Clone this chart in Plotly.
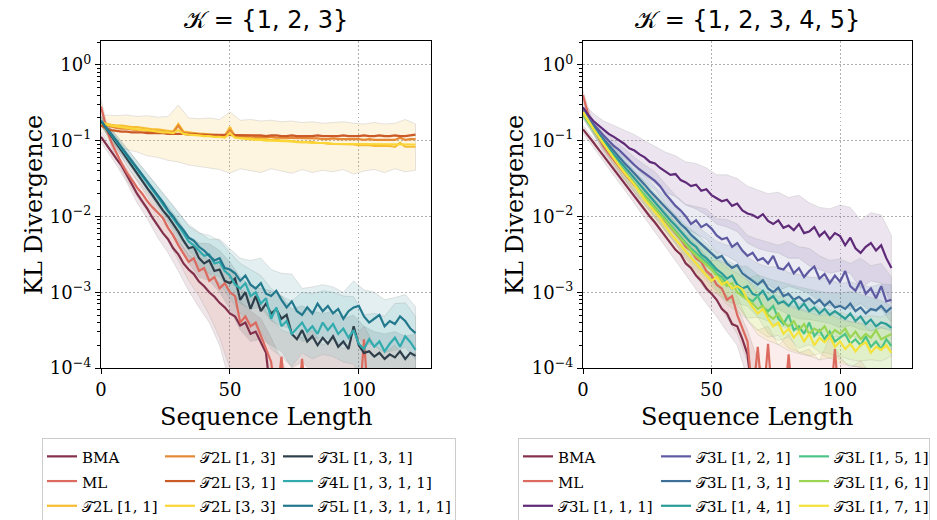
import plotly.graph_objects as go

# ---------------- data (log10 of KL divergence) ----------------
x_k3 = list(range(0, 123, 2))
x_k3_band = [0] + list(range(2, 123, 4))
x_k5 = list(range(0, 121, 2))
x_k5_band = list(range(0, 121, 4))

# K = {1,2,3}
bma_k3 = [-0.95, -1.05, -1.15, -1.24, -1.33, -1.45, -1.56, -1.70, -1.80, -1.90,
          -2.02, -2.12, -2.22, -2.30, -2.42, -2.50, -2.62, -2.70, -2.76, -2.86,
          -2.92, -3.00, -3.06, -3.14, -3.20, -3.28, -3.32, -3.44, -3.40, -3.55,
          -3.52, -3.66, -3.80, -4.40, -4.60, -4.60, -4.60, -4.60, -4.60, -4.60,
          -4.60, -4.60, -4.60, -4.60, -4.60, -4.60, -4.60, -4.60, -4.60, -4.60,
          -4.60, -4.60, -4.60, -4.60, -4.60, -4.60, -4.60, -4.60, -4.60, -4.60,
          -4.60, -4.60]
ml_k3 = [-0.55, -0.82, -1.02, -1.17, -1.30, -1.42, -1.52, -1.62, -1.70, -1.80,
         -1.88, -1.95, -2.02, -2.15, -2.25, -2.38, -2.50, -2.60, -2.55, -2.72,
         -2.68, -2.85, -2.80, -2.95, -2.88, -3.00, -3.05, -3.40, -3.32, -3.45,
         -3.40, -3.58, -3.75, -3.92, -4.50, -3.85, -4.60, -4.60, -4.60, -3.88,
         -4.60, -4.60, -4.60, -4.60, -4.60, -4.60, -4.60, -4.60, -4.60, -4.60,
         -4.60, -3.62, -4.60, -4.60, -4.60, -4.60, -4.60, -4.60, -4.60, -4.60,
         -4.60, -4.60]
t2l_11_k3 = [-0.76, -0.78, -0.79, -0.80, -0.80, -0.81, -0.82, -0.82, -0.83, -0.84,
             -0.85, -0.85, -0.86, -0.87, -0.88, -0.78, -0.88, -0.89, -0.90, -0.91,
             -0.91, -0.92, -0.93, -0.93, -0.94, -0.82, -0.95, -0.95, -0.96, -0.97,
             -0.97, -0.98, -0.98, -0.99, -0.99, -1.00, -1.00, -1.01, -1.01, -1.02,
             -1.02, -1.02, -1.03, -1.03, -1.04, -1.04, -1.04, -1.05, -1.05, -1.05,
             -1.06, -1.06, -1.06, -1.07, -1.07, -1.07, -1.07, -1.08, -1.03, -1.08,
             -1.08, -1.08]
t2l_13_k3 = [-0.78, -0.80, -0.82, -0.83, -0.84, -0.84, -0.85, -0.86, -0.86, -0.87,
             -0.87, -0.88, -0.88, -0.89, -0.89, -0.80, -0.90, -0.90, -0.91, -0.91,
             -0.92, -0.92, -0.92, -0.93, -0.93, -0.86, -0.93, -0.94, -0.94, -0.94,
             -0.95, -0.95, -0.95, -0.95, -0.96, -0.96, -0.96, -0.96, -0.97, -0.97,
             -0.97, -0.97, -0.97, -0.98, -0.98, -0.97, -0.98, -0.98, -0.98, -0.98,
             -0.98, -0.99, -0.98, -0.99, -0.99, -0.99, -0.99, -0.99, -0.96, -0.99,
             -0.98, -0.98]
t2l_31_k3 = [-0.80, -0.84, -0.86, -0.87, -0.88, -0.88, -0.89, -0.89, -0.89, -0.90,
             -0.90, -0.90, -0.90, -0.91, -0.91, -0.91, -0.91, -0.92, -0.91, -0.92,
             -0.92, -0.92, -0.92, -0.92, -0.93, -0.92, -0.93, -0.93, -0.93, -0.93,
             -0.93, -0.93, -0.94, -0.93, -0.93, -0.94, -0.94, -0.93, -0.94, -0.94,
             -0.94, -0.94, -0.93, -0.94, -0.94, -0.94, -0.94, -0.93, -0.94, -0.94,
             -0.94, -0.93, -0.94, -0.94, -0.93, -0.94, -0.94, -0.93, -0.94, -0.94,
             -0.93, -0.92]
t2l_33_k3 = [-0.77, -0.79, -0.80, -0.81, -0.82, -0.83, -0.84, -0.85, -0.86, -0.86,
             -0.87, -0.88, -0.89, -0.89, -0.90, -0.86, -0.91, -0.92, -0.92, -0.93,
             -0.94, -0.94, -0.95, -0.95, -0.96, -0.90, -0.96, -0.97, -0.98, -0.98,
             -0.99, -0.99, -1.00, -1.00, -1.00, -1.01, -1.01, -1.01, -1.02, -1.02,
             -1.02, -1.03, -1.03, -1.03, -1.03, -1.04, -1.04, -1.04, -1.04, -1.04,
             -1.04, -1.05, -1.05, -1.05, -1.05, -1.05, -1.05, -1.05, -1.04, -1.05,
             -1.05, -1.05]
t3l_k3 = [-0.74, -0.84, -0.93, -1.03, -1.13, -1.23, -1.33, -1.43, -1.53, -1.63,
          -1.72, -1.82, -1.92, -2.00, -2.10, -2.20, -2.32, -2.42, -2.40, -2.55,
          -2.62, -2.58, -2.72, -2.70, -2.85, -2.88, -2.82, -3.10, -3.00, -3.22,
          -3.05, -3.25, -3.15, -3.28, -3.22, -3.35, -3.30, -3.55, -3.62, -3.50,
          -3.65, -3.58, -3.70, -3.60, -3.68, -3.58, -3.72, -3.65, -3.75, -3.45,
          -3.70, -3.80, -3.78, -3.85, -3.80, -3.88, -3.82, -3.86, -3.78, -3.88,
          -3.80, -3.84]
t4l_k3 = [-0.74, -0.83, -0.92, -1.01, -1.10, -1.19, -1.28, -1.37, -1.46, -1.55,
          -1.64, -1.74, -1.84, -1.93, -2.02, -2.12, -2.22, -2.33, -2.38, -2.45,
          -2.52, -2.50, -2.62, -2.60, -2.72, -2.78, -2.90, -2.95, -2.88, -3.05,
          -3.00, -3.15, -3.08, -3.35, -3.20, -3.45, -3.38, -3.55, -3.48, -3.40,
          -3.52, -3.45, -3.55, -3.40, -3.50, -3.42, -3.55, -3.48, -3.60, -3.50,
          -3.68, -3.75, -3.62, -3.72, -3.65, -3.78, -3.68, -3.60, -3.72, -3.58,
          -3.66, -3.76]
t5l_k3 = [-0.74, -0.82, -0.91, -1.00, -1.09, -1.18, -1.27, -1.36, -1.45, -1.54,
          -1.63, -1.72, -1.81, -1.92, -2.00, -2.10, -2.18, -2.28, -2.32, -2.40,
          -2.45, -2.52, -2.58, -2.55, -2.68, -2.70, -2.75, -2.85, -2.78, -2.90,
          -2.95, -2.88, -3.02, -3.05, -2.98, -3.10, -3.20, -3.12, -3.25, -3.30,
          -3.20, -3.28, -3.15, -3.25, -3.18, -3.28, -3.22, -3.35, -3.25, -3.20,
          -3.18, -3.32, -3.40, -3.35, -3.30, -3.45, -3.38, -3.42, -3.32, -3.38,
          -3.48, -3.54]

# bands K = {1,2,3} (on x_k3_band)
t2l_11_k3_lo = [-0.84, -0.95, -1.08, -1.12, -1.15, -1.20, -1.22, -1.26, -1.28, -1.32,
                -1.34, -1.36, -1.38, -1.43, -1.37, -1.40, -1.42, -1.37, -1.40, -1.43,
                -1.38, -1.42, -1.39, -1.41, -1.38, -1.44, -1.40, -1.38, -1.42, -1.37,
                -1.41, -1.39]
t2l_11_k3_hi = [-0.68, -0.66, -0.67, -0.66, -0.68, -0.67, -0.69, -0.68, -0.53, -0.70,
                -0.71, -0.70, -0.72, -0.62, -0.73, -0.72, -0.74, -0.73, -0.75, -0.74,
                -0.76, -0.75, -0.77, -0.76, -0.75, -0.77, -0.78, -0.76, -0.78, -0.77,
                -0.72, -0.78]
bma_k3_lo = [-1.02, -1.12, -1.32, -1.55, -1.82, -2.03, -2.28, -2.48, -2.72, -2.98,
             -3.20, -3.40, -3.70, -4.20, -4.50, -4.60, -4.60, -4.60, -4.60, -4.60,
             -4.60, -4.60, -4.60, -4.60, -4.60, -4.60, -4.60, -4.60, -4.60, -4.60,
             -4.60, -4.60]
bma_k3_hi = [-0.88, -0.98, -1.17, -1.37, -1.60, -1.79, -2.00, -2.16, -2.32, -2.50,
             -2.62, -2.76, -2.88, -2.98, -3.12, -3.25, -3.35, -3.60, -3.90, -4.20,
             -4.60, -4.60, -4.60, -4.60, -4.60, -4.60, -4.60, -4.60, -4.60, -4.60,
             -4.60, -4.60]
ml_k3_lo = [-0.62, -0.90, -1.25, -1.52, -1.74, -1.93, -2.10, -2.32, -2.58, -2.85,
            -3.05, -3.30, -3.60, -4.00, -4.50, -4.60, -4.60, -4.60, -4.60, -4.60,
            -4.60, -4.60, -4.60, -4.60, -4.60, -4.60, -4.60, -4.60, -4.60, -4.60,
            -4.60, -4.60]
ml_k3_hi = [-0.45, -0.74, -1.09, -1.33, -1.51, -1.68, -1.82, -2.00, -2.20, -2.40,
            -2.48, -2.58, -2.65, -2.68, -2.95, -3.05, -3.15, -3.35, -3.50, -3.55,
            -3.60, -3.50, -3.70, -3.60, -3.75, -3.60, -3.45, -3.70, -3.80, -3.70,
            -3.90, -3.80]
t3l_k3_lo = [-0.80, -0.91, -1.11, -1.32, -1.53, -1.74, -1.95, -2.15, -2.38, -2.62,
             -2.80, -2.85, -3.00, -3.22, -3.50, -3.65, -3.62, -3.70, -3.78, -4.00,
             -3.92, -4.05, -4.10, -4.00, -4.20, -4.10, -4.30, -4.30, -4.40, -4.30,
             -4.40, -4.30]
t3l_k3_hi = [-0.68, -0.77, -0.96, -1.15, -1.34, -1.53, -1.71, -1.87, -2.05, -2.26,
             -2.35, -2.36, -2.45, -2.60, -2.80, -2.92, -2.95, -2.98, -3.05, -3.22,
             -3.18, -3.25, -3.28, -3.25, -3.35, -3.30, -3.45, -3.52, -3.55, -3.52,
             -3.58, -3.55]
t4l_k3_lo = [-0.80, -0.90, -1.09, -1.28, -1.47, -1.66, -1.87, -2.08, -2.30, -2.53,
             -2.68, -2.75, -2.88, -3.08, -3.28, -3.40, -3.52, -3.75, -3.85, -3.98,
             -3.80, -3.88, -3.82, -3.85, -3.92, -3.95, -4.20, -4.15, -4.25, -4.05,
             -4.00, -4.20]
t4l_k3_hi = [-0.68, -0.76, -0.93, -1.10, -1.27, -1.44, -1.61, -1.78, -1.94, -2.13,
             -2.22, -2.25, -2.32, -2.48, -2.62, -2.70, -2.78, -2.95, -3.05, -3.12,
             -3.00, -3.02, -2.98, -3.00, -3.05, -3.06, -3.30, -3.28, -3.32, -3.15,
             -3.14, -3.32]
t5l_k3_lo = [-0.80, -0.88, -1.07, -1.26, -1.45, -1.64, -1.83, -2.05, -2.25, -2.45,
             -2.60, -2.75, -2.80, -2.98, -3.15, -3.22, -3.20, -3.38, -3.45, -3.48,
             -3.65, -3.62, -3.60, -3.63, -3.70, -3.55, -3.67, -3.70, -3.80, -3.77,
             -3.73, -3.89]
t5l_k3_hi = [-0.68, -0.76, -0.93, -1.10, -1.27, -1.44, -1.61, -1.79, -1.95, -2.11,
             -2.20, -2.30, -2.30, -2.42, -2.55, -2.58, -2.55, -2.70, -2.75, -2.76,
             -2.95, -2.93, -2.90, -2.93, -3.00, -2.85, -2.97, -3.00, -3.10, -3.07,
             -3.03, -3.19]

# K = {1,2,3,4,5}
bma_k5 = [-0.85, -0.93, -1.02, -1.11, -1.20, -1.29, -1.38, -1.47, -1.55, -1.64,
          -1.73, -1.82, -1.91, -2.00, -2.08, -2.17, -2.26, -2.35, -2.44, -2.50,
          -2.62, -2.68, -2.78, -2.85, -2.95, -3.02, -3.10, -3.22, -3.28, -3.42,
          -3.45, -3.62, -3.82, -4.40, -4.60, -4.60, -4.60, -4.60, -4.60, -4.60,
          -4.60, -4.60, -4.60, -4.60, -4.60, -4.60, -4.60, -4.60, -4.60, -4.60,
          -4.60, -4.60, -4.60, -4.60, -4.60, -4.60, -4.60, -4.60, -4.60, -4.60,
          -4.60]
ml_k5 = [-0.40, -0.65, -0.84, -0.97, -1.08, -1.17, -1.26, -1.35, -1.43, -1.51,
         -1.58, -1.66, -1.74, -1.82, -1.90, -1.98, -2.06, -2.14, -2.22, -2.30,
         -2.40, -2.45, -2.55, -2.60, -2.72, -2.78, -2.90, -2.95, -3.10, -3.05,
         -3.30, -3.48, -3.65, -4.40, -3.72, -4.50, -3.68, -4.60, -4.60, -4.60,
         -3.82, -4.60, -4.60, -4.60, -4.60, -4.60, -4.60, -4.60, -4.60, -3.75,
         -4.60, -4.60, -4.60, -4.60, -4.60, -4.60, -4.60, -4.60, -4.60, -4.60,
         -4.60]
t3l_111 = [-0.56, -0.66, -0.74, -0.80, -0.86, -0.91, -0.95, -0.99, -1.04, -1.10,
           -1.13, -1.18, -1.22, -1.28, -1.30, -1.36, -1.40, -1.45, -1.44, -1.52,
           -1.55, -1.60, -1.58, -1.66, -1.64, -1.72, -1.76, -1.80, -1.78, -1.86,
           -1.83, -1.92, -1.96, -1.98, -2.02, -1.97, -2.06, -2.10, -2.05, -2.15,
           -2.12, -2.18, -2.10, -2.22, -2.20, -2.14, -2.26, -2.20, -2.30, -2.22,
           -2.26, -2.38, -2.28, -2.42, -2.48, -2.40, -2.35, -2.45, -2.38, -2.55,
           -2.68]
t3l_121 = [-0.60, -0.70, -0.78, -0.86, -0.93, -1.00, -1.07, -1.12, -1.19, -1.26,
           -1.32, -1.38, -1.43, -1.48, -1.53, -1.60, -1.70, -1.78, -1.86, -1.92,
           -2.00, -2.10, -2.05, -2.14, -2.10, -2.16, -2.25, -2.30, -2.28, -2.40,
           -2.35, -2.45, -2.52, -2.48, -2.58, -2.55, -2.62, -2.52, -2.68, -2.70,
           -2.62, -2.75, -2.68, -2.80, -2.72, -2.66, -2.82, -2.76, -2.88, -2.78,
           -2.86, -2.72, -2.92, -2.98, -2.85, -3.02, -2.95, -3.08, -2.92, -3.12,
           -3.10]
t3l_131 = [-0.62, -0.72, -0.81, -0.90, -0.98, -1.06, -1.14, -1.21, -1.29, -1.36,
           -1.43, -1.51, -1.58, -1.66, -1.73, -1.80, -1.88, -1.95, -2.02, -2.10,
           -2.16, -2.24, -2.30, -2.36, -2.42, -2.48, -2.55, -2.52, -2.62, -2.68,
           -2.64, -2.75, -2.80, -2.86, -2.90, -2.84, -2.95, -3.00, -2.94, -3.05,
           -3.02, -3.10, -3.06, -3.12, -3.08, -3.15, -3.10, -3.18, -3.12, -3.20,
           -3.18, -3.22, -3.15, -3.25, -3.20, -3.28, -3.22, -3.24, -3.18, -3.26,
           -3.20]
t3l_141 = [-0.64, -0.74, -0.83, -0.92, -1.01, -1.10, -1.18, -1.26, -1.34, -1.42,
           -1.50, -1.58, -1.66, -1.74, -1.82, -1.90, -1.97, -2.05, -2.12, -2.20,
           -2.28, -2.35, -2.40, -2.50, -2.55, -2.62, -2.70, -2.75, -2.82, -2.78,
           -2.90, -2.95, -2.92, -3.02, -3.05, -2.98, -3.10, -3.05, -3.15, -3.12,
           -3.18, -3.10, -3.22, -3.15, -3.25, -3.20, -3.28, -3.22, -3.30, -3.25,
           -3.30, -3.35, -3.28, -3.38, -3.32, -3.42, -3.36, -3.45, -3.40, -3.42,
           -3.47]
t3l_151 = [-0.66, -0.76, -0.86, -0.95, -1.04, -1.13, -1.22, -1.31, -1.40, -1.48,
           -1.56, -1.64, -1.72, -1.80, -1.88, -1.96, -2.04, -2.12, -2.20, -2.27,
           -2.35, -2.42, -2.48, -2.55, -2.60, -2.66, -2.75, -2.80, -2.88, -2.95,
           -2.92, -3.02, -3.08, -3.12, -3.05, -3.20, -3.25, -3.18, -3.35, -3.42,
           -3.30, -3.50, -3.45, -3.55, -3.40, -3.58, -3.50, -3.62, -3.52, -3.65,
           -3.60, -3.55, -3.68, -3.62, -3.70, -3.58, -3.72, -3.65, -3.75, -3.62,
           -3.71]
t3l_161 = [-0.65, -0.75, -0.85, -0.95, -1.05, -1.14, -1.23, -1.32, -1.41, -1.49,
           -1.57, -1.66, -1.74, -1.82, -1.90, -1.98, -2.06, -2.14, -2.22, -2.30,
           -2.38, -2.45, -2.52, -2.58, -2.64, -2.70, -2.78, -2.85, -2.92, -2.88,
           -3.00, -3.05, -3.10, -3.15, -3.22, -3.18, -3.30, -3.35, -3.28, -3.40,
           -3.45, -3.38, -3.50, -3.42, -3.55, -3.48, -3.52, -3.45, -3.58, -3.50,
           -3.55, -3.48, -3.60, -3.52, -3.62, -3.55, -3.60, -3.50, -3.62, -3.58,
           -3.55]
t3l_171 = [-0.62, -0.74, -0.84, -0.94, -1.04, -1.14, -1.24, -1.33, -1.42, -1.50,
           -1.58, -1.68, -1.78, -1.86, -1.94, -2.02, -2.12, -2.22, -2.30, -2.38,
           -2.46, -2.55, -2.62, -2.70, -2.78, -2.85, -2.80, -2.90, -2.86, -2.95,
           -2.92, -2.96, -3.10, -3.20, -3.28, -3.22, -3.35, -3.45, -3.40, -3.55,
           -3.48, -3.60, -3.52, -3.65, -3.55, -3.70, -3.60, -3.66, -3.58, -3.72,
           -3.65, -3.75, -3.68, -3.78, -3.70, -3.66, -3.80, -3.72, -3.76, -3.70,
           -3.80]

# bands K = {1,...,5} (on x_k5_band)
bma_k5_lo = [-0.90, -1.08, -1.27, -1.46, -1.64, -1.83, -2.02, -2.20, -2.39, -2.58,
             -2.78, -2.96, -3.15, -3.32, -3.52, -3.70, -4.14, -4.60, -4.60, -4.60,
             -4.60, -4.60, -4.60, -4.60, -4.60, -4.60, -4.60, -4.60, -4.60, -4.60,
             -4.60]
bma_k5_hi = [-0.80, -0.96, -1.13, -1.30, -1.46, -1.63, -1.80, -1.96, -2.13, -2.30,
             -2.46, -2.60, -2.75, -2.88, -3.04, -3.20, -3.50, -3.90, -4.20, -4.60,
             -4.60, -4.60, -4.60, -4.60, -4.60, -4.60, -4.60, -4.60, -4.60, -4.60,
             -4.60]
ml_k5_lo = [-0.46, -0.90, -1.15, -1.34, -1.52, -1.68, -1.85, -2.02, -2.19, -2.36,
            -2.56, -2.73, -2.92, -3.12, -3.34, -3.55, -3.92, -4.60, -4.60, -4.60,
            -4.60, -4.60, -4.60, -4.60, -4.60, -4.60, -4.60, -4.60, -4.60, -4.60,
            -4.60]
ml_k5_hi = [-0.34, -0.78, -1.01, -1.18, -1.34, -1.48, -1.63, -1.78, -1.93, -2.08,
            -2.24, -2.37, -2.52, -2.68, -2.86, -3.05, -3.38, -3.50, -3.45, -3.70,
            -3.55, -3.80, -3.75, -3.90, -3.60, -3.85, -4.00, -3.90, -4.10, -4.00,
            -4.20]
t3l_111_lo = [-0.62, -0.84, -0.98, -1.10, -1.22, -1.34, -1.46, -1.56, -1.68, -1.74,
              -1.85, -1.90, -1.98, -2.10, -2.14, -2.20, -2.35, -2.42, -2.46, -2.48,
              -2.55, -2.55, -2.65, -2.70, -2.75, -2.72, -2.75, -2.95, -2.85, -2.88,
              -3.15]
t3l_111_hi = [-0.50, -0.64, -0.74, -0.80, -0.86, -0.92, -1.00, -1.08, -1.15, -1.20,
              -1.28, -1.30, -1.36, -1.45, -1.45, -1.50, -1.60, -1.65, -1.70, -1.68,
              -1.75, -1.72, -1.82, -1.88, -1.90, -1.85, -1.88, -2.05, -1.95, -1.98,
              -2.25]
t3l_121_lo = [-0.65, -0.84, -1.00, -1.15, -1.28, -1.42, -1.54, -1.65, -1.83, -2.00,
              -2.16, -2.23, -2.30, -2.47, -2.52, -2.60, -2.80, -2.86, -2.90, -2.98,
              -2.92, -2.96, -3.02, -3.12, -3.18, -3.16, -3.22, -3.15, -3.25, -3.22,
              -3.40]
t3l_121_hi = [-0.55, -0.72, -0.86, -0.99, -1.10, -1.22, -1.32, -1.41, -1.57, -1.72,
              -1.84, -1.87, -1.90, -2.03, -2.04, -2.10, -2.25, -2.30, -2.34, -2.38,
              -2.33, -2.40, -2.42, -2.52, -2.58, -2.56, -2.62, -2.55, -2.65, -2.62,
              -2.80]
t3l_131_lo = [-0.67, -0.87, -1.05, -1.22, -1.38, -1.53, -1.69, -1.85, -2.01, -2.16,
              -2.32, -2.48, -2.62, -2.77, -2.86, -2.89, -3.06, -3.18, -3.23, -3.22,
              -3.30, -3.35, -3.36, -3.39, -3.41, -3.47, -3.44, -3.49, -3.51, -3.47,
              -3.50]
t3l_131_hi = [-0.57, -0.75, -0.91, -1.06, -1.20, -1.33, -1.47, -1.61, -1.75, -1.88,
              -2.00, -2.12, -2.22, -2.33, -2.38, -2.39, -2.54, -2.62, -2.67, -2.66,
              -2.74, -2.77, -2.80, -2.81, -2.83, -2.89, -2.86, -2.91, -2.93, -2.89,
              -2.90]
t3l_141_lo = [-0.69, -0.89, -1.08, -1.26, -1.43, -1.60, -1.77, -1.94, -2.10, -2.26,
              -2.44, -2.58, -2.75, -2.92, -3.06, -3.15, -3.18, -3.33, -3.38, -3.44,
              -3.47, -3.51, -3.54, -3.57, -3.59, -3.59, -3.57, -3.61, -3.65, -3.69,
              -3.76]
t3l_141_hi = [-0.59, -0.77, -0.94, -1.10, -1.25, -1.40, -1.55, -1.70, -1.84, -1.98,
              -2.12, -2.22, -2.35, -2.48, -2.58, -2.65, -2.66, -2.77, -2.82, -2.86,
              -2.89, -2.93, -2.96, -2.99, -3.01, -3.01, -2.99, -3.03, -3.07, -3.11,
              -3.18]
t3l_151_lo = [-0.71, -0.92, -1.11, -1.30, -1.49, -1.66, -1.83, -2.00, -2.17, -2.34,
              -2.51, -2.66, -2.80, -2.97, -3.12, -3.17, -3.34, -3.33, -3.54, -3.64,
              -3.59, -3.74, -3.69, -3.79, -3.81, -3.89, -3.97, -3.99, -4.01, -4.04,
              -4.00]
t3l_151_hi = [-0.61, -0.80, -0.97, -1.14, -1.31, -1.46, -1.61, -1.76, -1.91, -2.06,
              -2.19, -2.30, -2.40, -2.53, -2.64, -2.67, -2.82, -2.77, -2.96, -3.06,
              -3.01, -3.16, -3.11, -3.21, -3.23, -3.31, -3.39, -3.41, -3.43, -3.46,
              -3.42]
t3l_161_lo = [-0.70, -0.91, -1.12, -1.31, -1.50, -1.67, -1.85, -2.02, -2.19, -2.36,
              -2.54, -2.70, -2.84, -3.00, -3.16, -3.25, -3.36, -3.50, -3.59, -3.57,
              -3.74, -3.79, -3.84, -3.81, -3.87, -3.84, -3.89, -3.91, -3.89, -3.91,
              -3.84]
t3l_161_hi = [-0.60, -0.79, -0.98, -1.15, -1.32, -1.47, -1.63, -1.78, -1.93, -2.08,
              -2.22, -2.34, -2.44, -2.56, -2.68, -2.75, -2.84, -2.94, -3.01, -2.99,
              -3.16, -3.21, -3.26, -3.23, -3.29, -3.26, -3.31, -3.33, -3.31, -3.33,
              -3.26]
t3l_171_lo = [-0.67, -0.90, -1.11, -1.32, -1.51, -1.68, -1.89, -2.06, -2.25, -2.44,
              -2.62, -2.80, -2.98, -3.02, -3.10, -3.17, -3.36, -3.56, -3.64, -3.69,
              -3.77, -3.81, -3.84, -3.89, -3.87, -3.94, -3.97, -3.99, -4.09, -4.05,
              -4.09]
t3l_171_hi = [-0.57, -0.78, -0.97, -1.16, -1.33, -1.48, -1.67, -1.82, -1.99, -2.16,
              -2.30, -2.44, -2.58, -2.58, -2.62, -2.67, -2.84, -3.00, -3.06, -3.11,
              -3.19, -3.23, -3.26, -3.31, -3.29, -3.36, -3.39, -3.41, -3.51, -3.47,
              -3.51]

y_tickvals = [1e-4, 1e-3, 1e-2, 1e-1, 1e0]
y_ticktext = ["10<sup>\u22124</sup>", "10<sup>\u22123</sup>", "10<sup>\u22122</sup>",
              "10<sup>\u22121</sup>", "10<sup>0</sup>"]

# ---------------- figure ----------------
def kl(a):
    return [10 ** v for v in a]

def rgba(h, a):
    h = h.lstrip('#')
    return f"rgba({int(h[0:2],16)},{int(h[2:4],16)},{int(h[4:6],16)},{a})"

C_BMA = "#82304c"
C_ML = "#dc6a5e"

# (name, values, colour, legend column, band, legend entry width)
left_series = [
    ("BMA", bma_k3, C_BMA, "a1", (bma_k3_lo, bma_k3_hi), 73),
    ("ML", ml_k3, C_ML, "a1", (ml_k3_lo, ml_k3_hi), 73),
    ("\U0001D4AF2L [1, 1]", t2l_11_k3, "#f6bd33", "a1", (t2l_11_k3_lo, t2l_11_k3_hi), 73),
    ("\U0001D4AF2L [1, 3]", t2l_13_k3, "#e58937", "a2", None, 73),
    ("\U0001D4AF2L [3, 1]", t2l_31_k3, "#cb5a26", "a2", None, 73),
    ("\U0001D4AF2L [3, 3]", t2l_33_k3, "#fbd636", "a2", None, 73),
    ("\U0001D4AF3L [1, 3, 1]", t3l_k3, "#2e3e4a", "a3", (t3l_k3_lo, t3l_k3_hi), 132),
    ("\U0001D4AF4L [1, 3, 1, 1]", t4l_k3, "#32abae", "a3", (t4l_k3_lo, t4l_k3_hi), 132),
    ("\U0001D4AF5L [1, 3, 1, 1, 1]", t5l_k3, "#22788c", "a3", (t5l_k3_lo, t5l_k3_hi), 132),
]
right_series = [
    ("BMA", bma_k5, C_BMA, "b1", (bma_k5_lo, bma_k5_hi), 93),
    ("ML", ml_k5, C_ML, "b1", (ml_k5_lo, ml_k5_hi), 93),
    ("\U0001D4AF3L [1, 1, 1]", t3l_111, "#5f2a78", "b1", (t3l_111_lo, t3l_111_hi), 93),
    ("\U0001D4AF3L [1, 2, 1]", t3l_121, "#5d5aa2", "b2", (t3l_121_lo, t3l_121_hi), 93),
    ("\U0001D4AF3L [1, 3, 1]", t3l_131, "#3e7099", "b2", (t3l_131_lo, t3l_131_hi), 93),
    ("\U0001D4AF3L [1, 4, 1]", t3l_141, "#2b9c98", "b2", (t3l_141_lo, t3l_141_hi), 93),
    ("\U0001D4AF3L [1, 5, 1]", t3l_151, "#4dc487", "b3", (t3l_151_lo, t3l_151_hi), 90),
    ("\U0001D4AF3L [1, 6, 1]", t3l_161, "#9bd553", "b3", (t3l_161_lo, t3l_161_hi), 90),
    ("\U0001D4AF3L [1, 7, 1]", t3l_171, "#f4e23a", "b3", (t3l_171_lo, t3l_171_hi), 90),
]

fig = go.Figure()

def add_panel(series, x, xb, xa, ya, legend):
    for name, vals, col, grp, band, lw in series:
        if band is None:
            continue
        lo, hi = band
        fa = 0.15 if ("2L" in name and "[1, 1]" in name) else 0.12
        fig.add_trace(go.Scatter(
            x=xb + xb[::-1], y=kl(hi) + kl(lo)[::-1], mode="lines", fill="toself",
            fillcolor=rgba(col, fa), line=dict(color="rgba(160,160,160,0.35)", width=0.8),
            showlegend=False, hoverinfo="skip", xaxis=xa, yaxis=ya,
            legend=legend, legendgroup=grp))
    for name, vals, col, grp, band, lw in series:
        fig.add_trace(go.Scatter(
            x=x, y=kl(vals), mode="lines",
            name='<span style="font-size:15px">' + name + '</span>',
            line=dict(color=col, width=2.2), xaxis=xa, yaxis=ya,
            legend=legend, legendgroup=grp, legendwidth=lw))

add_panel(left_series, x_k3, x_k3_band, "x", "y", "legend")
add_panel(right_series, x_k5, x_k5_band, "x2", "y2", "legend2")

W, H = 937, 520
serif = "DejaVu Serif"
axis_common = dict(
    showline=True, linecolor="black", linewidth=1.3, mirror=True,
    ticks="outside", ticklen=5, tickwidth=1.2, tickcolor="black",
    tickfont=dict(family=serif, size=18, color="black"),
    showgrid=True, gridcolor="#b0b0b0", griddash="1.5px,2.5px", gridwidth=1,
    zeroline=False,
)
xcommon = dict(axis_common, range=[0, 128], tickvals=[0, 50, 100])
ycommon = dict(axis_common, type="log", range=[-4, 0.316],
               tickvals=y_tickvals, ticktext=y_ticktext,
               minor=dict(ticks="outside", ticklen=3, tickwidth=1, tickcolor="black",
                          dtick="D1", showgrid=False))

ytop, ybot = 41, 368
leg_common = dict(yanchor="top", xanchor="left", orientation="h", traceorder="grouped",
                  tracegroupgap=0, font=dict(family=serif, size=16.7, color="black"),
                  bgcolor="white", bordercolor="#cccccc", borderwidth=1)
fig.update_layout(
    width=W, height=H, margin=dict(l=0, r=0, t=0, b=0, autoexpand=False),
    paper_bgcolor="white", plot_bgcolor="white",
    xaxis=dict(xcommon, domain=[101 / W, 431 / W], anchor="y"),
    yaxis=dict(ycommon, domain=[1 - ybot / H, 1 - ytop / H], anchor="x"),
    xaxis2=dict(xcommon, domain=[583 / W, 912 / W], anchor="y2"),
    yaxis2=dict(ycommon, domain=[1 - ybot / H, 1 - ytop / H], anchor="x2"),
    legend=dict(leg_common, x=42 / W, y=1 - 438 / H),
    legend2=dict(leg_common, x=518 / W, y=1 - 438 / H),
    showlegend=True,
)

ann = []
for txt, cx in [("\U0001D4A6 = {1, 2, 3}", 266), ("\U0001D4A6 = {1, 2, 3, 4, 5}", 747)]:
    ann.append(dict(text=txt, x=cx / W, y=1 - 20 / H, xref="paper", yref="paper",
                    showarrow=False, xanchor="center", yanchor="middle",
                    font=dict(family="DejaVu Sans", size=24, color="black")))
for cx in [266, 747]:
    ann.append(dict(text="Sequence Length", x=cx / W, y=1 - 417 / H, xref="paper", yref="paper",
                    showarrow=False, xanchor="center", yanchor="middle",
                    font=dict(family=serif, size=24, color="black")))
for cx in [34, 515]:
    ann.append(dict(text="KL Divergence", x=cx / W, y=1 - 205 / H, xref="paper", yref="paper",
                    showarrow=False, xanchor="center", yanchor="middle", textangle=-90,
                    font=dict(family=serif, size=24, color="black")))
fig.update_layout(annotations=ann)

fig.write_html("out.html", config={"displayModeBar": False},
               post_script="document.body.style.margin='0px';")
